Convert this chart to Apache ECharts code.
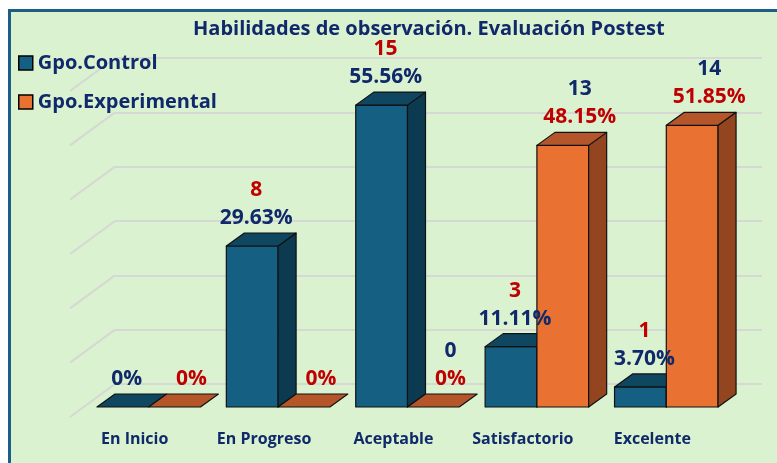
<!DOCTYPE html>
<html>
<head>
<meta charset="utf-8">
<script src="https://cdn.jsdelivr.net/npm/echarts@6/dist/echarts.min.js"></script>
<style>
    html, body { margin: 0; padding: 0; background: #fff; }
    #container { width: 777px; height: 463px; }
</style>
</head>
<body>
<div id="container"></div>
<script>
// datos
var categories = ['En Inicio', 'En Progreso', 'Aceptable', 'Satisfactorio', 'Excelente'];
var controlPct = [0, 29.63, 55.56, 11.11, 3.70];
var experimentalPct = [0, 0, 0, 48.15, 51.85];
var controlCount = [null, 8, 15, 3, 1];
var experimentalCount = [null, null, 0, 13, 14];
var wallTicks = [0, 10, 20, 30, 40, 50, 60];

var NAVY = '#10296a';
var RED = '#c00000';
var FONT = '"Open Sans"';
// profundidad de las barras y del piso (px)
var DX = 18, DY = 13;
var WX = 45, WY = 33;

var myChart = echarts.init(document.getElementById('container'));

function barRenderer(side, face, top, flank) {
    return function (params, api) {
        var i = api.value(0), v = api.value(1);
        var base = api.coord([i, 0]);
        var head = api.coord([i, v]);
        var w = api.size([1, 0])[0] * 0.4;
        var x0 = side < 0 ? base[0] - w : base[0];
        var x1 = x0 + w;
        var yb = base[1], yt = head[1];
        var line = { stroke: '#111', lineWidth: 1.2, lineJoin: 'round' };
        var children = [];
        if (yb - yt > 0.5) {
            children.push({
                type: 'rect',
                shape: { x: x0, y: yt, width: w, height: yb - yt },
                style: Object.assign({ fill: face }, line)
            });
            children.push({
                type: 'polygon',
                shape: { points: [[x1, yt], [x1 + DX, yt - DY], [x1 + DX, yb - DY], [x1, yb]] },
                style: Object.assign({ fill: flank }, line)
            });
        }
        children.push({
            type: 'polygon',
            shape: { points: [[x0, yt], [x0 + DX, yt - DY], [x1 + DX, yt - DY], [x1, yt]] },
            style: Object.assign({ fill: top }, line)
        });
        return { type: 'group', children: children };
    };
}

function labelRenderer(side, counts, pctColor, countColor, nudge) {
    return function (params, api) {
        var i = api.value(0), v = api.value(1);
        var base = api.coord([i, 0]);
        var head = api.coord([i, v]);
        var w = api.size([1, 0])[0] * 0.4;
        var cx = base[0] + side * w / 2 + nudge;
        var y = head[1] - DY - 15;
        var pct = v === 0 ? '0%' : v.toFixed(2) + '%';
        var font = 'bold 21px ' + FONT;
        var children = [{
            type: 'text',
            style: { text: pct, x: cx, y: y, align: 'center', verticalAlign: 'middle', fill: pctColor, font: font }
        }];
        if (counts[i] !== null) {
            children.push({
                type: 'text',
                style: { text: String(counts[i]), x: cx, y: y - 28, align: 'center', verticalAlign: 'middle', fill: countColor, font: font }
            });
        }
        return { type: 'group', children: children };
    };
}

function pairs(arr) {
    return arr.map(function (v, i) { return [i, v]; });
}

option = {
    backgroundColor: '#ffffff',
    animation: false,
    graphic: [{
        type: 'rect',
        z: -10,
        shape: { x: 9.5, y: 10.5, width: 800, height: 480 },
        style: { fill: '#daf2d0', stroke: '#1b5e86', lineWidth: 3 }
    }],
    title: {
        text: 'Habilidades de observación. Evaluación Postest',
        left: 188,
        top: 14,
        textStyle: { color: NAVY, fontFamily: FONT, fontWeight: 'bold', fontSize: 20 }
    },
    legend: {
        orient: 'vertical',
        left: 18,
        top: 53,
        padding: 0,
        itemWidth: 14,
        itemHeight: 14,
        itemGap: 19,
        icon: 'rect',
        data: ['Gpo.Control', 'Gpo.Experimental'],
        itemStyle: { borderColor: '#000', borderWidth: 1.5 },
        textStyle: { color: NAVY, fontFamily: FONT, fontWeight: 'bold', fontSize: 20 }
    },
    grid: [
        { left: 115, top: 58, width: 647, height: 326 },   // pared
        { left: 84, top: 81, width: 647, height: 326 },    // frente de barras
        { left: 70, top: 91, width: 647, height: 326 }     // borde del piso
    ],
    xAxis: [
        { type: 'value', gridIndex: 0, min: 0, max: 1, show: false },
        { type: 'category', gridIndex: 1, data: categories, show: false },
        {
            type: 'category', gridIndex: 2, data: categories,
            axisLine: { show: false }, axisTick: { show: false },
            axisLabel: {
                interval: 0, hideOverlap: false,
                color: NAVY, fontFamily: FONT, fontWeight: 'bold', fontSize: 16, margin: 14
            }
        }
    ],
    yAxis: [
        {
            type: 'value', gridIndex: 0, min: 0, max: 60, interval: 10,
            axisLine: { show: false }, axisTick: { show: false }, axisLabel: { show: false },
            splitLine: { lineStyle: { color: '#d5d8d3', width: 2 } }
        },
        { type: 'value', gridIndex: 1, min: 0, max: 60, show: false },
        { type: 'value', gridIndex: 2, min: 0, max: 60, show: false }
    ],
    series: [
        {
            type: 'custom',
            xAxisIndex: 0, yAxisIndex: 0,
            silent: true,
            data: wallTicks.map(function (v) { return [0, v]; }),
            renderItem: function (params, api) {
                var p = api.coord([0, api.value(1)]);
                return {
                    type: 'line',
                    shape: { x1: p[0], y1: p[1], x2: p[0] - WX, y2: p[1] + WY },
                    style: { stroke: '#d5d8d3', lineWidth: 2 }
                };
            }
        },
        {
            name: 'Gpo.Control',
            type: 'custom',
            xAxisIndex: 1, yAxisIndex: 1,
            z: 3,
            itemStyle: { color: '#156082' },
            data: pairs(controlPct),
            renderItem: barRenderer(-1, '#156082', '#0f4761', '#0c3a50')
        },
        {
            name: 'Gpo.Experimental',
            type: 'custom',
            xAxisIndex: 1, yAxisIndex: 1,
            z: 4,
            itemStyle: { color: '#e97132' },
            data: pairs(experimentalPct),
            renderItem: barRenderer(1, '#e97132', '#b5562a', '#934520')
        },
        {
            type: 'custom',
            xAxisIndex: 1, yAxisIndex: 1,
            z: 10,
            silent: true,
            data: pairs(controlPct),
            renderItem: labelRenderer(-1, controlCount, NAVY, RED, 4)
        },
        {
            type: 'custom',
            xAxisIndex: 1, yAxisIndex: 1,
            z: 10,
            silent: true,
            data: pairs(experimentalPct),
            renderItem: labelRenderer(1, experimentalCount, RED, NAVY, 17)
        }
    ]
};
myChart.setOption(option);
</script>
</body>
</html>
